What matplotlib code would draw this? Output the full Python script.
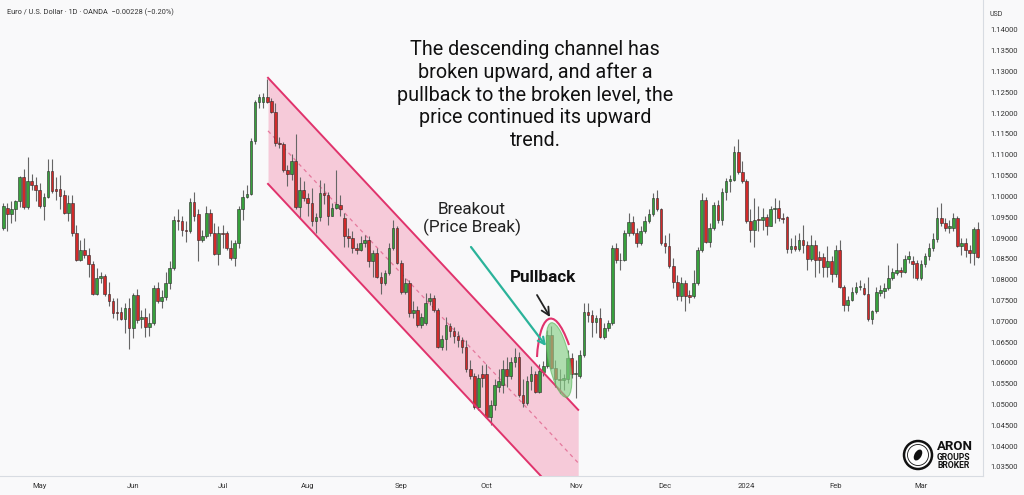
import numpy as np
import pandas as pd
import matplotlib
matplotlib.use("Agg")
import matplotlib.pyplot as plt
from matplotlib.patches import Ellipse, Circle, PathPatch
from matplotlib.path import Path

# EUR/USD daily candles, 18 Apr 2023 .. 21 Mar 2024
open_ = [1.0924, 1.0973, 1.0957, 1.0969, 1.0989, 1.1046, 1.0974, 1.1038, 1.1028, 1.1016,
         1.0977, 1.0999, 1.1061, 1.1017, 1.1017, 1.1003, 1.0961, 1.0983, 1.0913, 1.0848,
         1.0872, 1.0860, 1.0837, 1.0766, 1.0803, 1.0809, 1.0766, 1.0748, 1.0723, 1.0721,
         1.0705, 1.0732, 1.0684, 1.0762, 1.0705, 1.0709, 1.0687, 1.0695, 1.0781, 1.0748,
         1.0758, 1.0791, 1.0829, 1.0944, 1.0940, 1.0920, 1.0916, 1.0987, 1.0957, 1.0895,
         1.0905, 1.0961, 1.0912, 1.0861, 1.0913, 1.0913, 1.0875, 1.0852, 1.0889, 1.0969,
         1.0999, 1.1006, 1.1133, 1.1228, 1.1228, 1.1240, 1.1230, 1.1202, 1.1128, 1.1125,
         1.1063, 1.1054, 1.1085, 1.0974, 1.1016, 1.0997, 1.0985, 1.0940, 1.0950, 1.1007,
         1.1003, 1.0954, 1.0973, 1.0979, 1.0948, 1.0904, 1.0900, 1.0875, 1.0870, 1.0887,
         1.0894, 1.0844, 1.0864, 1.0807, 1.0791, 1.0817, 1.0875, 1.0924, 1.0841, 1.0770,
         1.0792, 1.0719, 1.0727, 1.0691, 1.0695, 1.0748, 1.0756, 1.0727, 1.0639, 1.0657,
         1.0688, 1.0676, 1.0665, 1.0655, 1.0639, 1.0586, 1.0568, 1.0495, 1.0572, 1.0572,
         1.0471, 1.0499, 1.0543, 1.0547, 1.0584, 1.0568, 1.0602, 1.0615, 1.0523, 1.0503,
         1.0556, 1.0572, 1.0531, 1.0578, 1.0592, 1.0667, 1.0588, 1.0561, 1.0558, 1.0561,
         1.0611, 1.0572, 1.0568, 1.0619, 1.0723, 1.0715, 1.0699, 1.0707, 1.0663, 1.0683,
         1.0695, 1.0875, 1.0848, 1.0846, 1.0912, 1.0938, 1.0912, 1.0887, 1.0916, 1.0940,
         1.0957, 1.0995, 1.0969, 1.0887, 1.0880, 1.0833, 1.0795, 1.0760, 1.0791, 1.0762,
         1.0760, 1.0791, 1.0871, 1.0991, 1.0891, 1.0924, 1.0979, 1.0944, 1.1011, 1.1036,
         1.1040, 1.1107, 1.1059, 1.1036, 1.0940, 1.0920, 1.0946, 1.0943, 1.0950, 1.0930,
         1.0970, 1.0973, 1.0948, 1.0950, 1.0874, 1.0880, 1.0874, 1.0894, 1.0882, 1.0849,
         1.0884, 1.0854, 1.0854, 1.0831, 1.0844, 1.0814, 1.0870, 1.0783, 1.0740, 1.0752,
         1.0770, 1.0783, 1.0781, 1.0766, 1.0705, 1.0724, 1.0768, 1.0773, 1.0779, 1.0803,
         1.0817, 1.0822, 1.0819, 1.0849, 1.0844, 1.0840, 1.0803, 1.0838, 1.0856, 1.0875,
         1.0897, 1.0948, 1.0936, 1.0924, 1.0924, 1.0948, 1.0881, 1.0887, 1.0871, 1.0863,
         1.0921]
high = [1.0983, 1.0983, 1.0989, 1.0991, 1.1048, 1.1066, 1.1094, 1.1054, 1.1046, 1.1032,
        1.1007, 1.1091, 1.1091, 1.1046, 1.1052, 1.1016, 1.1003, 1.1003, 1.0932, 1.0895,
        1.0899, 1.0877, 1.0844, 1.0827, 1.0819, 1.0813, 1.0795, 1.0756, 1.0756, 1.0733,
        1.0744, 1.0756, 1.0768, 1.0778, 1.0727, 1.0731, 1.0719, 1.0787, 1.0795, 1.0776,
        1.0819, 1.0844, 1.0953, 1.0969, 1.0953, 1.0940, 1.0997, 1.1010, 1.0969, 1.0920,
        1.0977, 1.0969, 1.0936, 1.0928, 1.0932, 1.0916, 1.0895, 1.0895, 1.0977, 1.1016,
        1.1028, 1.1141, 1.1232, 1.1245, 1.1249, 1.1281, 1.1236, 1.1224, 1.1143, 1.1131,
        1.1076, 1.1102, 1.1151, 1.1047, 1.1038, 1.1009, 1.1020, 1.0961, 1.1040, 1.1032,
        1.1011, 1.0985, 1.1063, 1.1003, 1.0961, 1.0924, 1.0916, 1.0887, 1.0904, 1.0908,
        1.0904, 1.0872, 1.0876, 1.0819, 1.0823, 1.0887, 1.0944, 1.0928, 1.0848, 1.0803,
        1.0799, 1.0748, 1.0736, 1.0719, 1.0768, 1.0768, 1.0764, 1.0732, 1.0667, 1.0711,
        1.0695, 1.0687, 1.0676, 1.0663, 1.0655, 1.0606, 1.0576, 1.0572, 1.0594, 1.0598,
        1.0511, 1.0560, 1.0584, 1.0606, 1.0615, 1.0615, 1.0635, 1.0627, 1.0560, 1.0568,
        1.0592, 1.0580, 1.0596, 1.0604, 1.0680, 1.0688, 1.0606, 1.0584, 1.0572, 1.0631,
        1.0623, 1.0606, 1.0631, 1.0744, 1.0744, 1.0727, 1.0715, 1.0732, 1.0695, 1.0703,
        1.0883, 1.0887, 1.0864, 1.0920, 1.0961, 1.0952, 1.0924, 1.0928, 1.0952, 1.0969,
        1.1007, 1.1016, 1.0973, 1.0908, 1.0912, 1.0852, 1.0811, 1.0807, 1.0799, 1.0776,
        1.0823, 1.0879, 1.1007, 1.0999, 1.0936, 1.0987, 1.0991, 1.1020, 1.1044, 1.1052,
        1.1120, 1.1139, 1.1084, 1.1042, 1.0969, 1.0995, 1.0977, 1.0973, 1.0957, 1.0977,
        1.0995, 1.0991, 1.0961, 1.0953, 1.0900, 1.0908, 1.0912, 1.0932, 1.0892, 1.0908,
        1.0895, 1.0868, 1.0864, 1.0880, 1.0856, 1.0884, 1.0895, 1.0787, 1.0760, 1.0783,
        1.0795, 1.0799, 1.0791, 1.0807, 1.0728, 1.0783, 1.0787, 1.0791, 1.0835, 1.0827,
        1.0887, 1.0831, 1.0860, 1.0868, 1.0857, 1.0848, 1.0848, 1.0864, 1.0887, 1.0912,
        1.0975, 1.0983, 1.0948, 1.0944, 1.0961, 1.0953, 1.0900, 1.0900, 1.0883, 1.0927,
        1.0939]
low = [1.0920, 1.0918, 1.0936, 1.0940, 1.0974, 1.0969, 1.0969, 1.1016, 1.0989, 1.0973,
       1.0943, 1.0997, 1.1009, 1.0991, 1.0969, 1.0957, 1.0940, 1.0904, 1.0844, 1.0844,
       1.0852, 1.0807, 1.0762, 1.0762, 1.0791, 1.0760, 1.0736, 1.0707, 1.0703, 1.0703,
       1.0671, 1.0633, 1.0659, 1.0695, 1.0683, 1.0663, 1.0665, 1.0691, 1.0744, 1.0732,
       1.0752, 1.0778, 1.0823, 1.0920, 1.0904, 1.0891, 1.0912, 1.0940, 1.0844, 1.0891,
       1.0899, 1.0904, 1.0859, 1.0836, 1.0875, 1.0871, 1.0848, 1.0833, 1.0875, 1.0944,
       1.0997, 1.1003, 1.1127, 1.1212, 1.1212, 1.1224, 1.1200, 1.1122, 1.1116, 1.1059,
       1.1024, 1.1039, 1.0969, 1.0948, 1.0989, 1.0953, 1.0928, 1.0913, 1.0940, 1.0981,
       1.0932, 1.0953, 1.0969, 1.0953, 1.0879, 1.0879, 1.0864, 1.0862, 1.0868, 1.0879,
       1.0831, 1.0807, 1.0803, 1.0766, 1.0787, 1.0811, 1.0872, 1.0838, 1.0766, 1.0766,
       1.0711, 1.0707, 1.0687, 1.0683, 1.0691, 1.0740, 1.0723, 1.0635, 1.0631, 1.0631,
       1.0663, 1.0647, 1.0639, 1.0623, 1.0578, 1.0560, 1.0490, 1.0486, 1.0543, 1.0467,
       1.0451, 1.0486, 1.0531, 1.0527, 1.0543, 1.0560, 1.0590, 1.0519, 1.0495, 1.0499,
       1.0535, 1.0527, 1.0527, 1.0568, 1.0588, 1.0584, 1.0543, 1.0527, 1.0535, 1.0552,
       1.0564, 1.0515, 1.0564, 1.0615, 1.0699, 1.0663, 1.0671, 1.0659, 1.0657, 1.0676,
       1.0691, 1.0839, 1.0823, 1.0844, 1.0904, 1.0908, 1.0879, 1.0883, 1.0912, 1.0936,
       1.0952, 1.0965, 1.0883, 1.0864, 1.0827, 1.0779, 1.0752, 1.0748, 1.0724, 1.0744,
       1.0756, 1.0787, 1.0867, 1.0889, 1.0879, 1.0920, 1.0936, 1.0932, 1.0991, 1.1011,
       1.1036, 1.1055, 1.1032, 1.0936, 1.0891, 1.0879, 1.0916, 1.0920, 1.0908, 1.0928,
       1.0936, 1.0940, 1.0936, 1.0864, 1.0864, 1.0868, 1.0868, 1.0864, 1.0823, 1.0844,
       1.0807, 1.0815, 1.0807, 1.0807, 1.0795, 1.0807, 1.0779, 1.0724, 1.0724, 1.0748,
       1.0766, 1.0774, 1.0762, 1.0701, 1.0693, 1.0719, 1.0760, 1.0756, 1.0774, 1.0799,
       1.0811, 1.0807, 1.0815, 1.0840, 1.0803, 1.0799, 1.0799, 1.0831, 1.0848, 1.0868,
       1.0891, 1.0928, 1.0916, 1.0912, 1.0916, 1.0879, 1.0859, 1.0855, 1.0839, 1.0835,
       1.0851]
close = [1.0977, 1.0957, 1.0970, 1.0989, 1.1046, 1.0974, 1.1038, 1.1028, 1.1016, 1.0977,
         1.0999, 1.1061, 1.1013, 1.1013, 1.1002, 1.0961, 1.0983, 1.0912, 1.0848, 1.0872,
         1.0860, 1.0837, 1.0766, 1.0803, 1.0809, 1.0766, 1.0748, 1.0719, 1.0719, 1.0705,
         1.0732, 1.0684, 1.0762, 1.0703, 1.0709, 1.0687, 1.0695, 1.0781, 1.0748, 1.0758,
         1.0791, 1.0829, 1.0944, 1.0940, 1.0920, 1.0916, 1.0987, 1.0953, 1.0895, 1.0905,
         1.0961, 1.0912, 1.0861, 1.0912, 1.0910, 1.0875, 1.0852, 1.0889, 1.0969, 1.0999,
         1.1006, 1.1133, 1.1228, 1.1239, 1.1240, 1.1228, 1.1202, 1.1128, 1.1125, 1.1063,
         1.1054, 1.1085, 1.0974, 1.1016, 1.0997, 1.0985, 1.0940, 1.0950, 1.1007, 1.1003,
         1.0954, 1.0973, 1.0981, 1.0969, 1.0904, 1.0900, 1.0875, 1.0870, 1.0887, 1.0894,
         1.0844, 1.0864, 1.0807, 1.0791, 1.0817, 1.0875, 1.0924, 1.0841, 1.0770, 1.0792,
         1.0719, 1.0727, 1.0691, 1.0711, 1.0744, 1.0756, 1.0727, 1.0639, 1.0657, 1.0691,
         1.0676, 1.0665, 1.0655, 1.0639, 1.0586, 1.0568, 1.0495, 1.0564, 1.0564, 1.0471,
         1.0499, 1.0547, 1.0556, 1.0584, 1.0568, 1.0602, 1.0615, 1.0523, 1.0503, 1.0556,
         1.0572, 1.0531, 1.0580, 1.0592, 1.0667, 1.0588, 1.0561, 1.0558, 1.0564, 1.0611,
         1.0572, 1.0576, 1.0619, 1.0723, 1.0715, 1.0699, 1.0707, 1.0663, 1.0683, 1.0695,
         1.0875, 1.0848, 1.0846, 1.0912, 1.0938, 1.0912, 1.0887, 1.0916, 1.0940, 1.0957,
         1.0995, 1.0969, 1.0887, 1.0880, 1.0833, 1.0795, 1.0760, 1.0791, 1.0760, 1.0758,
         1.0791, 1.0871, 1.0991, 1.0891, 1.0924, 1.0979, 1.0944, 1.1011, 1.1036, 1.1042,
         1.1107, 1.1059, 1.1036, 1.0940, 1.0920, 1.0944, 1.0943, 1.0950, 1.0930, 1.0970,
         1.0973, 1.0948, 1.0946, 1.0874, 1.0880, 1.0874, 1.0895, 1.0882, 1.0849, 1.0884,
         1.0848, 1.0846, 1.0831, 1.0844, 1.0814, 1.0870, 1.0783, 1.0740, 1.0752, 1.0770,
         1.0783, 1.0785, 1.0766, 1.0705, 1.0724, 1.0770, 1.0774, 1.0779, 1.0805, 1.0819,
         1.0822, 1.0819, 1.0849, 1.0856, 1.0838, 1.0803, 1.0838, 1.0856, 1.0875, 1.0897,
         1.0948, 1.0936, 1.0924, 1.0930, 1.0948, 1.0881, 1.0887, 1.0871, 1.0863, 1.0921,
         1.0855]

# trading days shown (no bars on 25 Dec and 1 Jan)
dates = pd.bdate_range("2023-04-18", "2024-03-21")
dates = dates[~dates.isin(pd.to_datetime(["2023-12-25", "2024-01-01"]))]

# descending channel drawing: bar index at start/end, price of upper and lower line
channel_x = [65.2, 141.6]
channel_upper = [1.1285, 1.0487]
channel_lower = [1.1030, 1.0232]

ytick_values = np.arange(1.035, 1.14001, 0.005)

bg = "#f9f9fa"
fig = plt.figure(figsize=(10.24, 4.95), dpi=100, facecolor=bg)
ax = fig.add_axes([0, 19 / 495, 983 / 1024, 476 / 495])
ax.set_facecolor(bg)

o = np.array(open_)
c = np.array(close)
x = np.arange(len(c))
cols = np.where(c >= o, "#37a03c", "#d12a2a")

ax.vlines(x, low, high, color="#666666", lw=0.8, zorder=3)
ax.bar(x, c - o, bottom=o, width=0.66, color=cols, edgecolor="#2a2a2a",
       linewidth=0.4, zorder=4)

# channel
cu = np.array(channel_upper)
cl = np.array(channel_lower)
ax.fill_between(channel_x, cl, cu, color="#f4a9c2", alpha=0.58, lw=0, zorder=1)
ax.plot(channel_x, cu, color="#e0336c", lw=1.4, zorder=5)
ax.plot(channel_x, cl, color="#e0336c", lw=1.4, zorder=5)
ax.plot(channel_x, (cu + cl) / 2, color="#e5799d", lw=0.9, ls=(0, (3, 3)), zorder=2)

ax.set_xlim(-0.81, 241.3)
ax.set_ylim(1.0328, 1.1472)

# month ticks from the dates
month_pos = [i for i in range(1, len(dates)) if dates[i].month != dates[i - 1].month]
month_lab = [dates[i].strftime("%Y") if dates[i].month == 1 else dates[i].strftime("%b")
             for i in month_pos]
ax.set_xticks(month_pos)
ax.set_xticklabels(month_lab)
ax.yaxis.tick_right()
ax.set_yticks(ytick_values)
ax.set_yticklabels([f"{v:.5f}" for v in ytick_values])
ax.tick_params(axis="y", length=0, pad=5, labelsize=5.5, labelcolor="#333333")
ax.tick_params(axis="x", length=0, pad=5, labelsize=5.5, labelcolor="#333333")
for t in ax.get_xticklabels() + ax.get_yticklabels():
    t.set_family("Roboto")
for s in ["top", "left"]:
    ax.spines[s].set_visible(False)
for s in ["right", "bottom"]:
    ax.spines[s].set_color("#d8dce2")
    ax.spines[s].set_linewidth(0.8)

# overlay in pixel units for the notes
ov = fig.add_axes([0, 0, 1, 1])
ov.set_xlim(0, 1024)
ov.set_ylim(495, 0)
ov.axis("off")
ov.patch.set_alpha(0)

ov.text(7, 12, "Euro / U.S. Dollar · 1D · OANDA  −0.00228 (−0.20%)", fontsize=5.3,
        color="#333333", va="center", family="Roboto")
ov.text(990, 14, "USD", fontsize=5, color="#333333", va="center", family="Roboto")

ov.text(535, 95, "The descending channel has\nbroken upward, and after a\n"
        "pullback to the broken level, the\nprice continued its upward\ntrend.",
        ha="center", va="center", fontsize=14.2, linespacing=1.24, color="#111111",
        family="Roboto")
ov.text(472, 219, "Breakout\n(Price Break)", ha="center", va="center", fontsize=12.3,
        linespacing=1.2, color="#222222", family="Roboto")
ov.text(543, 277, "Pullback", ha="center", va="center", fontsize=12.3, weight="bold",
        color="#111111", family="Roboto")

ov.annotate("", xy=(546, 346), xytext=(471, 247),
            arrowprops=dict(arrowstyle="->", color="#2bb39a", lw=1.6,
                            mutation_scale=12, shrinkA=0, shrinkB=0))
ov.annotate("", xy=(550, 317), xytext=(537, 295),
            arrowprops=dict(arrowstyle="->", color="#222222", lw=1.3,
                            mutation_scale=14, shrinkA=0, shrinkB=0))

arc = Path([(537, 357), (539, 318), (553, 300), (569, 345)],
           [Path.MOVETO, Path.CURVE4, Path.CURVE4, Path.CURVE4])
ov.add_patch(PathPatch(arc, fill=False, edgecolor="#e0336c", lw=1.5))
ov.add_patch(Ellipse((559, 360), 21, 76, angle=-11.6, facecolor="#86cf86",
                     edgecolor="#5cb85c", lw=0.8, alpha=0.65))

# logo
ov.add_patch(Circle((918, 455), 14, facecolor="white", edgecolor="#111111", lw=1.8))
ov.add_patch(Circle((918, 455), 10.5, facecolor="none", edgecolor="#111111", lw=0.6))
ov.add_patch(Ellipse((918, 455), 7, 12, angle=30, facecolor="#111111"))
ov.text(937, 447, "ARON", fontsize=9.5, weight="bold", va="center", color="#111111",
        family="Roboto")
ov.text(937, 457.5, "GROUPS", fontsize=6.2, weight="bold", va="center", color="#111111",
        family="Roboto")
ov.text(937, 466, "BROKER", fontsize=6.2, weight="bold", va="center", color="#111111",
        family="Roboto")

fig.savefig("out.png", dpi=100, facecolor=bg)
